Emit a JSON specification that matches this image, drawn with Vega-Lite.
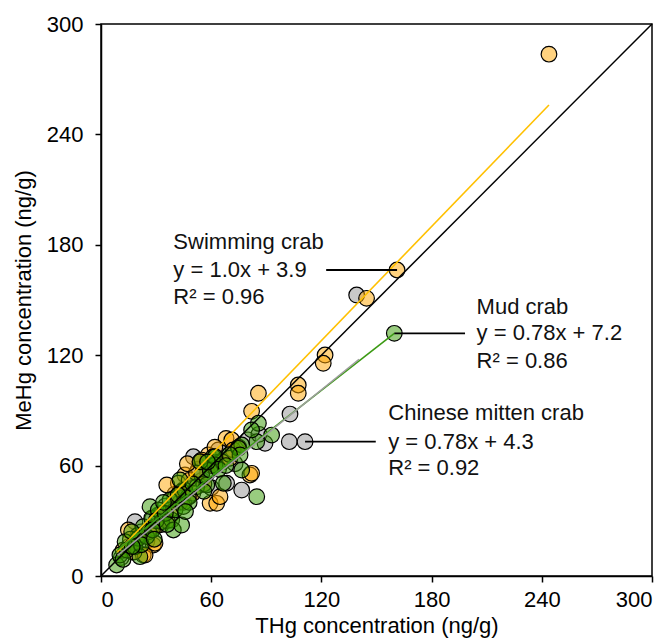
{
  "$schema": "https://vega.github.io/schema/vega-lite/v6.json",
  "width": 551,
  "height": 552,
  "autosize": {"type": "none"},
  "padding": {"left": 101, "top": 24, "right": 16, "bottom": 67},
  "background": "white",
  "config": {
    "view": {"stroke": "black", "strokeWidth": 1.5},
    "axis": {
      "grid": false,
      "domainColor": "black",
      "domainWidth": 1.5,
      "tickColor": "black",
      "tickWidth": 1.5,
      "tickSize": 6,
      "labelFont": "Liberation Sans",
      "labelFontSize": 22,
      "labelColor": "black",
      "titleFont": "Liberation Sans",
      "titleFontSize": 22,
      "titleFontWeight": "normal",
      "titleColor": "black"
    }
  },
  "datasets": {
    "points": [
      {"species": "Chinese mitten crab", "thg": 139.2, "mehg": 152.7},
      {"species": "Chinese mitten crab", "thg": 102.9, "mehg": 88.0},
      {"species": "Chinese mitten crab", "thg": 102.5, "mehg": 73.0},
      {"species": "Chinese mitten crab", "thg": 111.1, "mehg": 73.0},
      {"species": "Chinese mitten crab", "thg": 89.3, "mehg": 72.1},
      {"species": "Chinese mitten crab", "thg": 76.6, "mehg": 46.7},
      {"species": "Chinese mitten crab", "thg": 63.9, "mehg": 68.5},
      {"species": "Chinese mitten crab", "thg": 50.3, "mehg": 64.8},
      {"species": "Chinese mitten crab", "thg": 65.9, "mehg": 62.0},
      {"species": "Chinese mitten crab", "thg": 68.4, "mehg": 50.4},
      {"species": "Chinese mitten crab", "thg": 18.5, "mehg": 29.5},
      {"species": "Chinese mitten crab", "thg": 40.2, "mehg": 44.5},
      {"species": "Chinese mitten crab", "thg": 35.0, "mehg": 38.0},
      {"species": "Chinese mitten crab", "thg": 28.0, "mehg": 31.0},
      {"species": "Chinese mitten crab", "thg": 22.0, "mehg": 24.0},
      {"species": "Chinese mitten crab", "thg": 15.0, "mehg": 16.0},
      {"species": "Chinese mitten crab", "thg": 11.0, "mehg": 10.0},
      {"species": "Chinese mitten crab", "thg": 45.0, "mehg": 47.0},
      {"species": "Chinese mitten crab", "thg": 55.0, "mehg": 52.0},
      {"species": "Chinese mitten crab", "thg": 58.0, "mehg": 56.0},
      {"species": "Chinese mitten crab", "thg": 31.0, "mehg": 33.0},
      {"species": "Chinese mitten crab", "thg": 25.0, "mehg": 19.0},
      {"species": "Chinese mitten crab", "thg": 70.0, "mehg": 66.0},
      {"species": "Chinese mitten crab", "thg": 80.0, "mehg": 74.0},
      {"species": "Chinese mitten crab", "thg": 73.0, "mehg": 61.0},
      {"species": "Chinese mitten crab", "thg": 43.0, "mehg": 40.0},
      {"species": "Chinese mitten crab", "thg": 48.0, "mehg": 43.0},
      {"species": "Chinese mitten crab", "thg": 38.0, "mehg": 33.0},
      {"species": "Chinese mitten crab", "thg": 20.0, "mehg": 21.0},
      {"species": "Chinese mitten crab", "thg": 33.0, "mehg": 28.0},
      {"species": "Chinese mitten crab", "thg": 60.0, "mehg": 48.0},
      {"species": "Chinese mitten crab", "thg": 53.0, "mehg": 58.0},
      {"species": "Chinese mitten crab", "thg": 27.0, "mehg": 26.0},
      {"species": "Chinese mitten crab", "thg": 17.0, "mehg": 13.0},
      {"species": "Chinese mitten crab", "thg": 62.0, "mehg": 60.0},
      {"species": "Chinese mitten crab", "thg": 86.0, "mehg": 77.0},
      {"species": "Swimming crab", "thg": 243.9, "mehg": 283.6},
      {"species": "Swimming crab", "thg": 161.2, "mehg": 166.3},
      {"species": "Swimming crab", "thg": 144.6, "mehg": 150.9},
      {"species": "Swimming crab", "thg": 122.0, "mehg": 120.1},
      {"species": "Swimming crab", "thg": 121.0, "mehg": 115.6},
      {"species": "Swimming crab", "thg": 107.4, "mehg": 103.8},
      {"species": "Swimming crab", "thg": 107.4, "mehg": 99.3},
      {"species": "Swimming crab", "thg": 85.7, "mehg": 99.3},
      {"species": "Swimming crab", "thg": 82.0, "mehg": 89.5},
      {"species": "Swimming crab", "thg": 68.1, "mehg": 74.8},
      {"species": "Swimming crab", "thg": 71.2, "mehg": 73.9},
      {"species": "Swimming crab", "thg": 72.0, "mehg": 68.5},
      {"species": "Swimming crab", "thg": 58.4, "mehg": 65.8},
      {"species": "Swimming crab", "thg": 70.2, "mehg": 64.0},
      {"species": "Swimming crab", "thg": 81.1, "mehg": 54.9},
      {"species": "Swimming crab", "thg": 82.0, "mehg": 55.8},
      {"species": "Swimming crab", "thg": 59.4, "mehg": 39.5},
      {"species": "Swimming crab", "thg": 53.9, "mehg": 62.1},
      {"species": "Swimming crab", "thg": 45.7, "mehg": 54.9},
      {"species": "Swimming crab", "thg": 23.0, "mehg": 11.4},
      {"species": "Swimming crab", "thg": 28.5, "mehg": 16.8},
      {"species": "Swimming crab", "thg": 24.0, "mehg": 11.4},
      {"species": "Swimming crab", "thg": 63.0, "mehg": 39.5},
      {"species": "Swimming crab", "thg": 64.8, "mehg": 43.1},
      {"species": "Swimming crab", "thg": 42.1, "mehg": 50.4},
      {"species": "Swimming crab", "thg": 35.8, "mehg": 49.5},
      {"species": "Swimming crab", "thg": 14.9, "mehg": 25.0},
      {"species": "Swimming crab", "thg": 29.4, "mehg": 17.8},
      {"species": "Swimming crab", "thg": 54.8, "mehg": 63.0},
      {"species": "Swimming crab", "thg": 40.0, "mehg": 42.0},
      {"species": "Swimming crab", "thg": 33.0, "mehg": 34.0},
      {"species": "Swimming crab", "thg": 48.0, "mehg": 52.0},
      {"species": "Swimming crab", "thg": 52.0, "mehg": 56.0},
      {"species": "Swimming crab", "thg": 30.0, "mehg": 27.0},
      {"species": "Swimming crab", "thg": 20.0, "mehg": 22.0},
      {"species": "Swimming crab", "thg": 16.0, "mehg": 20.0},
      {"species": "Swimming crab", "thg": 12.0, "mehg": 14.0},
      {"species": "Swimming crab", "thg": 38.0, "mehg": 36.0},
      {"species": "Swimming crab", "thg": 44.0, "mehg": 46.0},
      {"species": "Swimming crab", "thg": 56.0, "mehg": 50.0},
      {"species": "Swimming crab", "thg": 60.0, "mehg": 60.0},
      {"species": "Swimming crab", "thg": 66.0, "mehg": 62.0},
      {"species": "Swimming crab", "thg": 75.0, "mehg": 70.0},
      {"species": "Swimming crab", "thg": 45.0, "mehg": 40.0},
      {"species": "Swimming crab", "thg": 36.0, "mehg": 30.0},
      {"species": "Swimming crab", "thg": 26.0, "mehg": 24.0},
      {"species": "Swimming crab", "thg": 18.0, "mehg": 13.0},
      {"species": "Swimming crab", "thg": 50.0, "mehg": 45.0},
      {"species": "Swimming crab", "thg": 62.0, "mehg": 70.0},
      {"species": "Swimming crab", "thg": 47.0, "mehg": 61.0},
      {"species": "Mud crab", "thg": 159.7, "mehg": 131.9},
      {"species": "Mud crab", "thg": 85.7, "mehg": 83.0},
      {"species": "Mud crab", "thg": 92.9, "mehg": 76.6},
      {"species": "Mud crab", "thg": 84.8, "mehg": 43.1},
      {"species": "Mud crab", "thg": 76.6, "mehg": 57.6},
      {"species": "Mud crab", "thg": 84.8, "mehg": 73.0},
      {"species": "Mud crab", "thg": 76.6, "mehg": 71.2},
      {"species": "Mud crab", "thg": 82.0, "mehg": 79.4},
      {"species": "Mud crab", "thg": 74.8, "mehg": 69.4},
      {"species": "Mud crab", "thg": 75.7, "mehg": 65.8},
      {"species": "Mud crab", "thg": 61.1, "mehg": 64.8},
      {"species": "Mud crab", "thg": 62.1, "mehg": 60.3},
      {"species": "Mud crab", "thg": 8.5, "mehg": 6.0},
      {"species": "Mud crab", "thg": 10.3, "mehg": 11.4},
      {"species": "Mud crab", "thg": 14.0, "mehg": 14.1},
      {"species": "Mud crab", "thg": 13.1, "mehg": 18.6},
      {"species": "Mud crab", "thg": 18.5, "mehg": 15.9},
      {"species": "Mud crab", "thg": 20.3, "mehg": 20.5},
      {"species": "Mud crab", "thg": 24.9, "mehg": 21.4},
      {"species": "Mud crab", "thg": 23.0, "mehg": 26.8},
      {"species": "Mud crab", "thg": 27.6, "mehg": 31.4},
      {"species": "Mud crab", "thg": 26.7, "mehg": 37.7},
      {"species": "Mud crab", "thg": 31.2, "mehg": 35.9},
      {"species": "Mud crab", "thg": 33.1, "mehg": 29.5},
      {"species": "Mud crab", "thg": 38.5, "mehg": 30.4},
      {"species": "Mud crab", "thg": 40.3, "mehg": 35.9},
      {"species": "Mud crab", "thg": 37.6, "mehg": 41.3},
      {"species": "Mud crab", "thg": 44.8, "mehg": 37.7},
      {"species": "Mud crab", "thg": 47.5, "mehg": 43.1},
      {"species": "Mud crab", "thg": 45.7, "mehg": 46.7},
      {"species": "Mud crab", "thg": 43.0, "mehg": 52.2},
      {"species": "Mud crab", "thg": 52.1, "mehg": 48.5},
      {"species": "Mud crab", "thg": 57.6, "mehg": 49.5},
      {"species": "Mud crab", "thg": 54.8, "mehg": 54.9},
      {"species": "Mud crab", "thg": 59.4, "mehg": 57.6},
      {"species": "Mud crab", "thg": 62.1, "mehg": 64.8},
      {"species": "Mud crab", "thg": 53.9, "mehg": 62.1},
      {"species": "Mud crab", "thg": 66.6, "mehg": 50.4},
      {"species": "Mud crab", "thg": 39.4, "mehg": 25.0},
      {"species": "Mud crab", "thg": 43.9, "mehg": 27.7},
      {"species": "Mud crab", "thg": 16.7, "mehg": 24.1},
      {"species": "Mud crab", "thg": 21.2, "mehg": 10.5},
      {"species": "Mud crab", "thg": 30.0, "mehg": 30.0},
      {"species": "Mud crab", "thg": 35.0, "mehg": 34.0},
      {"species": "Mud crab", "thg": 28.0, "mehg": 25.0},
      {"species": "Mud crab", "thg": 48.0, "mehg": 40.0},
      {"species": "Mud crab", "thg": 50.0, "mehg": 50.0},
      {"species": "Mud crab", "thg": 56.0, "mehg": 46.0},
      {"species": "Mud crab", "thg": 34.0, "mehg": 40.0},
      {"species": "Mud crab", "thg": 22.0, "mehg": 17.0},
      {"species": "Mud crab", "thg": 12.0, "mehg": 9.0},
      {"species": "Mud crab", "thg": 42.0, "mehg": 44.0},
      {"species": "Mud crab", "thg": 64.0, "mehg": 58.0},
      {"species": "Mud crab", "thg": 70.0, "mehg": 66.0},
      {"species": "Mud crab", "thg": 36.0, "mehg": 28.0},
      {"species": "Mud crab", "thg": 46.0, "mehg": 35.0},
      {"species": "Mud crab", "thg": 58.0, "mehg": 62.0},
      {"species": "Mud crab", "thg": 68.0, "mehg": 60.0},
      {"species": "Mud crab", "thg": 17.0, "mehg": 16.0},
      {"species": "Mud crab", "thg": 29.0, "mehg": 20.0}
    ],
    "identity": [
      {"thg": 0, "mehg": 0},
      {"thg": 300, "mehg": 300}
    ],
    "fits": [
      {"species": "Swimming crab", "thg": 9, "mehg": 13.2},
      {"species": "Swimming crab", "thg": 243.9, "mehg": 256.0},
      {"species": "Mud crab", "thg": 9, "mehg": 14.2},
      {"species": "Mud crab", "thg": 159.7, "mehg": 131.9},
      {"species": "Chinese mitten crab", "thg": 9, "mehg": 11.2},
      {"species": "Chinese mitten crab", "thg": 140.5, "mehg": 117.8}
    ],
    "pointers": [
      {"from": 122.6, "to": 161.2, "mehg": 166.3},
      {"from": 159.7, "to": 198.2, "mehg": 131.9},
      {"from": 111.1, "to": 149.6, "mehg": 73.0}
    ],
    "labels": [
      {"thg": 39.4, "mehg": 181.7, "text": "Swimming crab"},
      {"thg": 39.4, "mehg": 166.3, "text": "y = 1.0x + 3.9"},
      {"thg": 39.4, "mehg": 151.8, "text": "R² = 0.96"},
      {"thg": 204.5, "mehg": 146.4, "text": "Mud crab"},
      {"thg": 204.5, "mehg": 131.9, "text": "y = 0.78x + 7.2"},
      {"thg": 204.5, "mehg": 116.8, "text": "R² = 0.86"},
      {"thg": 156.4, "mehg": 88.4, "text": "Chinese mitten crab"},
      {"thg": 156.4, "mehg": 73.0, "text": "y = 0.78x + 4.3"},
      {"thg": 156.4, "mehg": 58.5, "text": "R² = 0.92"}
    ]
  },
  "encoding": {
    "x": {
      "field": "thg",
      "type": "quantitative",
      "scale": {"domain": [0, 300], "nice": false, "zero": false},
      "axis": {"values": [0, 60, 120, 180, 240, 300], "title": "THg concentration (ng/g)", "labelPadding": 7, "titlePadding": 5}
    },
    "y": {
      "field": "mehg",
      "type": "quantitative",
      "scale": {"domain": [0, 300], "nice": false, "zero": false},
      "axis": {"values": [0, 60, 120, 180, 240, 300], "title": "MeHg concentration (ng/g)", "labelPadding": 12, "titlePadding": 11}
    }
  },
  "layer": [
    {
      "data": {"name": "points"},
      "mark": {"type": "point", "shape": "circle", "filled": true, "size": 245, "fillOpacity": 0.5, "stroke": "black", "strokeWidth": 1.2, "strokeOpacity": 1},
      "encoding": {
        "fill": {
          "field": "species",
          "type": "nominal",
          "scale": {"domain": ["Chinese mitten crab", "Swimming crab", "Mud crab"], "range": ["#919191", "#FFA500", "#339900"]},
          "legend": null
        }
      }
    },
    {
      "data": {"name": "identity"},
      "mark": {"type": "line", "color": "black", "strokeWidth": 1.5},
      "encoding": {}
    },
    {
      "data": {"name": "fits"},
      "mark": {"type": "line", "strokeWidth": 1.6},
      "encoding": {
        "detail": {"field": "species", "type": "nominal"},
        "stroke": {
          "field": "species",
          "type": "nominal",
          "scale": {"domain": ["Chinese mitten crab", "Swimming crab", "Mud crab"], "range": ["#9E9E9E", "#FFC000", "#3C9A14"]},
          "legend": null
        }
      }
    },
    {
      "data": {"name": "pointers"},
      "mark": {"type": "rule", "color": "black", "strokeWidth": 1.8},
      "encoding": {
        "x": {"field": "from", "type": "quantitative"},
        "x2": {"field": "to"},
        "y": {"field": "mehg", "type": "quantitative"}
      }
    },
    {
      "data": {"name": "labels"},
      "mark": {"type": "text", "align": "left", "baseline": "middle", "font": "Liberation Sans", "fontSize": 22, "color": "#111111"},
      "encoding": {
        "text": {"field": "text", "type": "nominal"}
      }
    }
  ]
}
